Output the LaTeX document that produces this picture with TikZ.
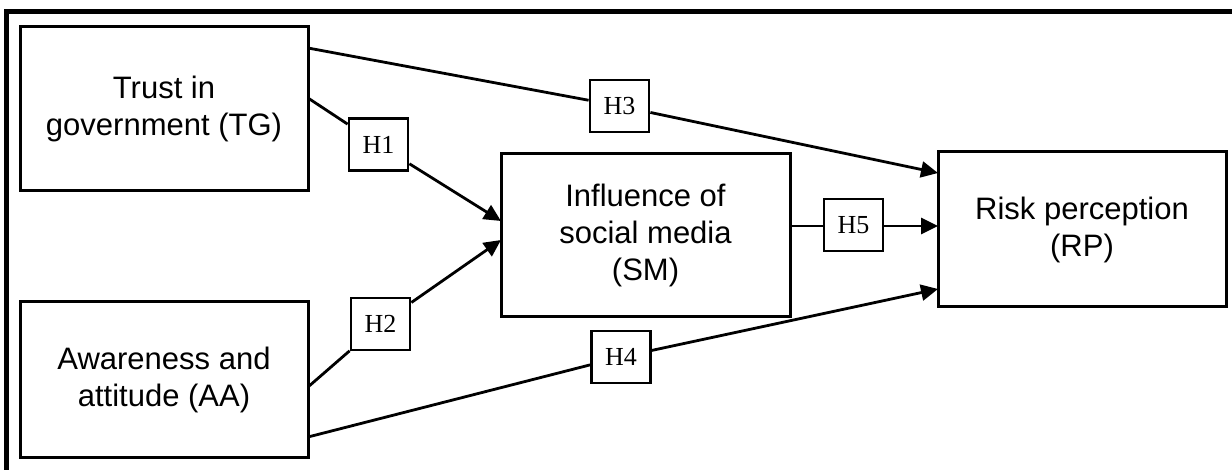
\documentclass[tikz,border=0pt]{standalone}
\usepackage{fontspec}
\setmainfont{Liberation Serif}
\newfontfamily\arialfont{Liberation Sans}
\usetikzlibrary{arrows.meta}
\begin{document}
\begin{tikzpicture}[x=1pt,y=-1pt,
  bigbox/.style={draw,line width=3pt,inner sep=0pt,align=center,
    font=\arialfont\fontsize{31}{37}\selectfont},
  hbox/.style={draw,line width=2.8pt,inner sep=0pt,minimum width=59pt,minimum height=52pt,
    fill=white,font=\fontsize{26}{30}\selectfont},
  conn/.style={line width=2.8pt},
  arr/.style={conn,-{Triangle[length=17pt,width=16pt]}}]
\useasboundingbox (0,0) rectangle (1232,470);
% outer frame (top and left only)
\draw[line width=5pt,line join=miter] (6.5,470) -- (6.5,11.5) -- (1232,11.5);
% main boxes
\node[bigbox,minimum width=288pt,minimum height=164pt] (TG) at (164,109) {Trust in\\government (TG)};
\node[bigbox,minimum width=288pt,minimum height=155pt] (AA) at (164,379.5) {Awareness and\\attitude (AA)};
\node[bigbox,minimum width=289pt,minimum height=163pt] (SM) at (645.5,235.5) {Influence of\\social media\\(SM)};
\node[bigbox,minimum width=288pt,minimum height=155pt] (RP) at (1082,229.5) {Risk perception\\(RP)};
% hypothesis boxes
\node[hbox] (H1) at (378.5,144.5) {H1};
\node[hbox] (H2) at (380.5,324) {H2};
\node[hbox] (H3) at (619.5,106) {H3};
\node[hbox] (H4) at (621,357) {H4};
\node[hbox] (H5) at (853.5,225) {H5};
% connector end points
\coordinate (tg3) at (308,48);
\coordinate (tg1) at (308,98);
\coordinate (aa2) at (308,387);
\coordinate (aa4) at (308,437);
\coordinate (sm1) at (501,221);
\coordinate (sm2) at (501,240);
\coordinate (sm5) at (790,226);
\coordinate (rp3) at (938,173);
\coordinate (rp5) at (938,226);
\coordinate (rp4) at (938,289);
% connectors
\draw[conn] (tg3) -- (H3);
\draw[arr] (H3) -- (rp3);
\draw[conn] (tg1) -- (H1);
\draw[arr] (H1) -- (sm1);
\draw[conn] (aa2) -- (H2);
\draw[arr] (H2) -- (sm2);
\draw[conn] (aa4) -- (H4);
\draw[arr] (H4) -- (rp4);
\draw[conn] (sm5) -- (sm5 -| H5.west);
\draw[arr] (sm5 -| H5.east) -- (rp5);
\end{tikzpicture}
\end{document}
